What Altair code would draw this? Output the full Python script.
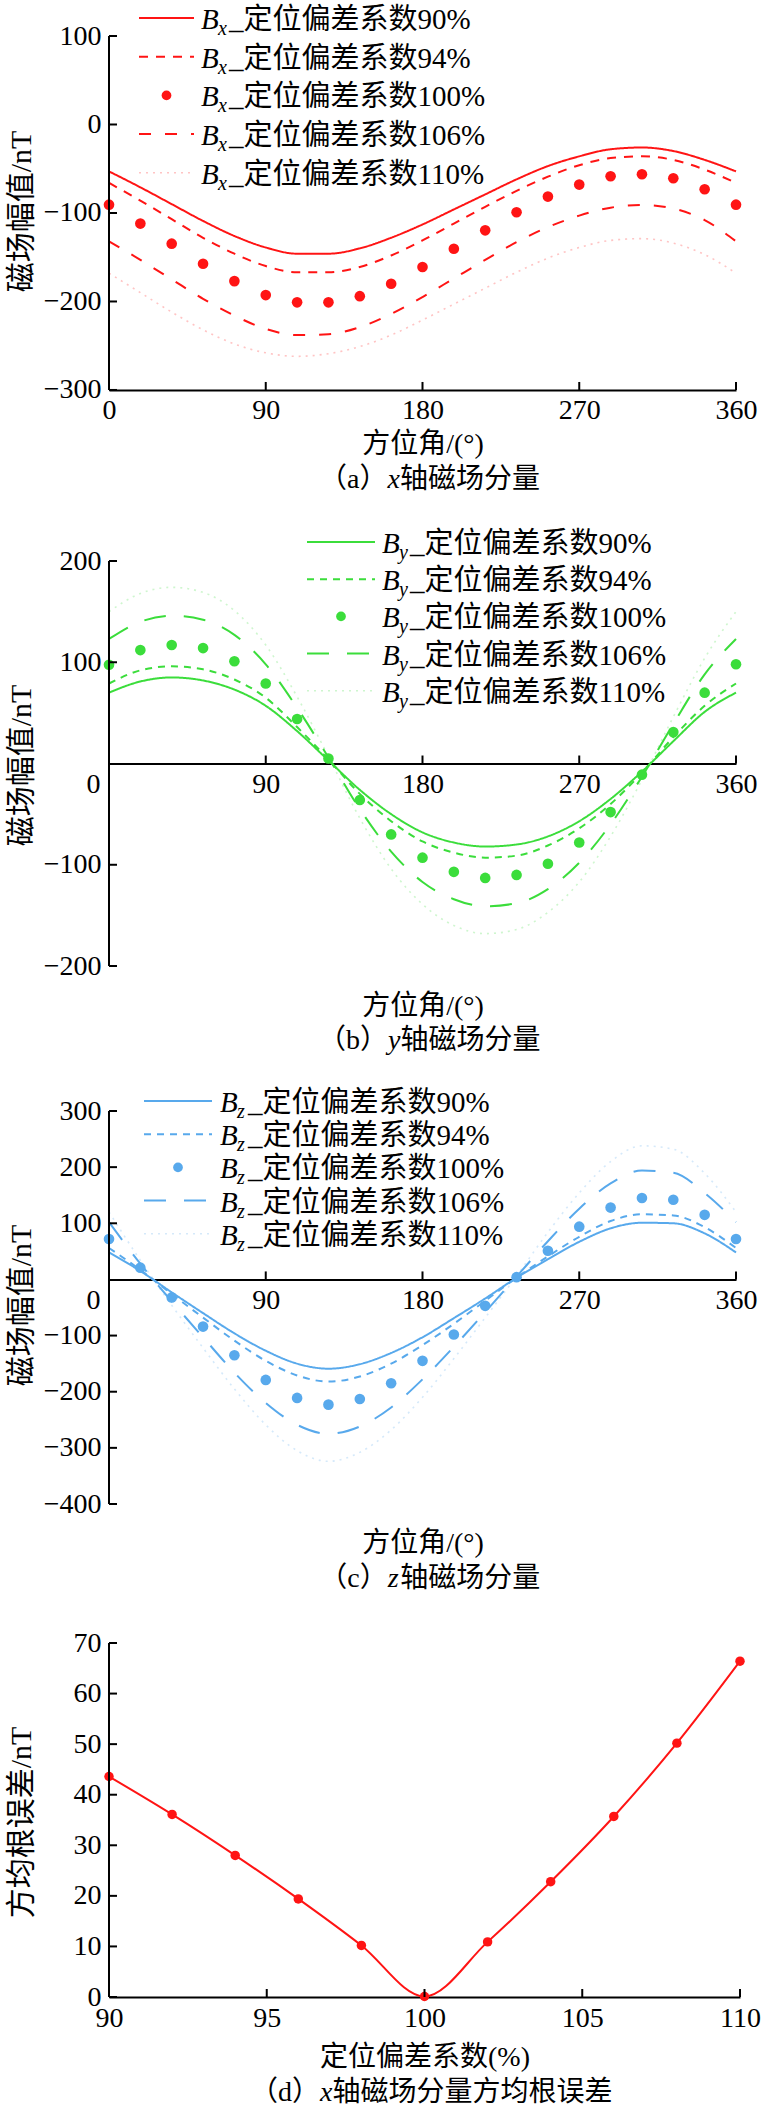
import altair as alt
import pandas as pd

FONT = "Liberation Serif, Noto Sans CJK SC"

ANG = [0, 18, 36, 54, 72, 90, 108, 126, 144, 162, 180, 198, 216, 234, 252, 270, 288, 306, 324, 342, 360]

# ---------- (a) x component ----------
A_NAMES = ["Bx_定位偏差系数90%", "Bx_定位偏差系数94%", "Bx_定位偏差系数100%", "Bx_定位偏差系数106%", "Bx_定位偏差系数110%"]
A90 = [-53, -71, -90, -109, -126, -139, -146, -146, -140, -128, -113, -96, -79, -62, -47, -36, -28, -26, -30, -40, -53]
A94 = [-66, -86, -107, -128, -146, -160, -167, -167, -161, -148, -131, -112, -93, -75, -59, -46, -38, -36, -40, -51, -66]
A100 = [-90.6, -112, -134.7, -157.4, -177, -192.8, -201, -201, -194, -180, -161, -140.4, -119.6, -99.2, -81.5, -67.9, -58.5, -56.2, -60.8, -73.2, -90.6]
A106 = [-132, -153, -175, -197, -216, -231, -238, -237, -229, -214, -195, -174, -153, -133, -116, -103, -94, -91, -95, -108, -132]
A110 = [-168, -190, -212, -232, -248, -258, -262, -259, -251, -238, -221, -203, -185, -167, -151, -139, -131, -129, -134, -147, -168]

# ---------- (b) y component ----------
B_NAMES = ["By_定位偏差系数90%", "By_定位偏差系数94%", "By_定位偏差系数100%", "By_定位偏差系数106%", "By_定位偏差系数110%"]
B90 = [70, 81, 85, 82, 73, 57, 32, 3, -26, -50, -68, -78, -82, -80, -72, -57, -35, -8, 22, 51, 70]
B94 = [79, 92, 96, 93, 83, 65, 36, 4, -30, -57, -77, -88, -93, -91, -81, -64, -40, -9, 26, 57, 79]
B100 = [97.5, 112, 117, 114, 101, 79, 44, 5, -36, -70, -93, -107, -113, -110, -99, -78, -48, -11, 31, 70, 98]
B106 = [123, 140, 146, 142, 127, 98, 55, 6, -45, -87, -117, -134, -141, -138, -124, -98, -60, -13, 39, 88, 123]
B110 = [150, 168, 174, 169, 151, 117, 66, 7, -54, -104, -139, -160, -168, -164, -147, -117, -72, -16, 46, 104, 150]

# ---------- (c) z component ----------
C_NAMES = ["Bz_定位偏差系数90%", "Bz_定位偏差系数94%", "Bz_定位偏差系数100%", "Bz_定位偏差系数106%", "Bz_定位偏差系数110%"]
C90 = [48, 15, -23, -60, -96, -127, -150, -159, -151, -131, -103, -69, -34, 3, 36, 67, 91, 101, 100, 82, 48]
C94 = [56, 17, -26, -68, -109, -145, -171, -182, -173, -150, -117, -79, -38, 3, 41, 76, 104, 116, 114, 93, 56]
C100 = [72, 21, -32, -84, -135, -179, -211, -223, -213, -185, -145, -98, -47, 4, 51, 94, 128, 145, 142, 115, 72]
C106 = [102, 28, -39, -103, -166, -220, -259, -275, -262, -228, -178, -120, -58, 5, 68, 126, 171, 194, 190, 154, 102]
C110 = [120, 34, -46, -122, -195, -259, -305, -324, -308, -268, -210, -141, -68, 6, 84, 154, 210, 238, 232, 189, 120]

# ---------- (d) RMSE ----------
D_X = [90, 92, 94, 96, 98, 100, 102, 104, 106, 108, 110]
D_Y = [43.6, 36.1, 28.0, 19.4, 10.2, 0.1, 10.9, 22.8, 35.7, 50.2, 66.4]

# captions: (prefix, italic letter, suffix)
CAP_A = ("（a）", "x", "轴磁场分量")
CAP_B = ("（b）", "y", "轴磁场分量")
CAP_C = ("（c）", "z", "轴磁场分量")
CAP_D = ("（d）", "x", "轴磁场分量方均根误差")

RED = "#FF1414"
GREEN = "#3BDD3B"
BLUE = "#58A9EC"

# line dash patterns for 90%, 94%, 100%, 106%, 110%
DASH_A = [[1, 0], [9, 8], [1, 0], [12, 14], [2, 5]]
DASH_BC = [[1, 0], [7, 6], [1, 0], [22, 18], [2, 5]]


def long_df(names, arrays):
    rows = []
    for n, arr in zip(names, arrays):
        for a, v in zip(ANG, arr):
            rows.append({"x": a, "y": v, "series": n})
    return pd.DataFrame(rows)


def make_panel(names, arrays, color, xdom, xlabels, ybox, yext, ylabels, xaxis_at,
               w, h, ytitle, ytitle_y, xtitle, xtitle_y, caption, cap_split, cap_y,
               leg=None, dashes=None, zero_left=False, anchor=False, rmse=None):
    px = h / (ybox[1] - ybox[0])
    offs = -(h - (ybox[1] - xaxis_at) * px)

    lab_off = {"condition": {"test": "datum.value === 0", "value": -16}, "value": 0} if zero_left else 0
    xaxis = alt.Axis(values=xlabels, title=xtitle, titleFont=FONT, titleFontSize=28,
                     titleFontWeight="normal", titleColor="black", titleY=xtitle_y,
                     titleBaseline="top", titleAlign="center",
                     labelFont=FONT, labelFontSize=28, labelColor="black", labelPadding=7,
                     labelFlush=False, labelOverlap=False, labelOffset=lab_off,
                     ticks=False, domain=True, domainColor="black", domainWidth=2,
                     offset=offs, grid=False)
    yaxis = alt.Axis(values=ylabels, title=ytitle, titleFont=FONT, titleFontSize=30,
                     titleFontWeight="normal", titleColor="black", titleAngle=270,
                     titleX=-88, titleY=ytitle_y, titleAlign="center", titleBaseline="middle",
                     labelFont=FONT, labelFontSize=28, labelColor="black", labelPadding=8,
                     labelFlush=False, labelOverlap=False, ticks=False, domain=False, grid=False)
    X = alt.X("x:Q", scale=alt.Scale(domain=xdom, nice=False, zero=False), axis=xaxis)
    Y = alt.Y("y:Q", scale=alt.Scale(domain=ybox, nice=False, zero=False), axis=yaxis)

    layers = []
    if rmse is None:
        df = long_df(names, arrays)
        sd = alt.StrokeDash("series:N", scale=alt.Scale(domain=names, range=dashes), legend=None)
        main = df[df.series.isin([names[0], names[1], names[3]])]
        faint = df[df.series == names[4]]
        pts = df[df.series == names[2]]
        layers.append(alt.Chart(main).mark_line(color=color, strokeWidth=2, interpolate="monotone")
                      .encode(x=X, y=Y, strokeDash=sd, detail="series:N"))
        layers.append(alt.Chart(faint).mark_line(color=color, strokeWidth=1.6, opacity=0.25,
                                                 interpolate="monotone")
                      .encode(x=X, y=Y, strokeDash=sd))
        layers.append(alt.Chart(pts).mark_circle(size=113, color=color, opacity=1)
                      .encode(x=X, y=Y))

        # legend block (key glyphs + labels), one row per series
        ldf = pd.DataFrame({"series": names,
                            "pre": [n[0] for n in names],
                            "sub": [n[1] for n in names],
                            "rest": [n[2:] for n in names],
                            "py": [leg["y0"] + i * leg["pitch"] for i in range(len(names))],
                            "ty": [leg["y0"] + i * leg["pitch"] + 2 for i in range(len(names))]})
        PY = alt.Y("py:Q", scale=None)
        TY = alt.Y("ty:Q", scale=None)
        lmain = ldf[ldf.series.isin([names[0], names[1], names[3]])]
        layers.append(alt.Chart(lmain).mark_rule(color=color, strokeWidth=2)
                      .encode(x=alt.value(leg["x1"]), x2=alt.value(leg["x2"]), y=PY, strokeDash=sd))
        layers.append(alt.Chart(ldf[ldf.series == names[4]]).mark_rule(color=color, strokeWidth=1.6,
                                                                       opacity=0.25)
                      .encode(x=alt.value(leg["x1"]), x2=alt.value(leg["x2"]), y=PY, strokeDash=sd))
        layers.append(alt.Chart(ldf[ldf.series == names[2]]).mark_circle(size=95, color=color, opacity=1)
                      .encode(x=alt.value((leg["x1"] + leg["x2"]) / 2), y=PY))
        tx = leg["tx"]
        layers.append(alt.Chart(ldf).mark_text(align="left", baseline="middle", font=FONT,
                                               fontSize=29, fontStyle="italic", color="black")
                      .encode(x=alt.value(tx), y=TY, text="pre:N"))
        layers.append(alt.Chart(ldf).mark_text(align="left", baseline="middle", font=FONT,
                                               fontSize=20, fontStyle="italic", color="black", dy=9)
                      .encode(x=alt.value(tx + 17), y=TY, text="sub:N"))
        layers.append(alt.Chart(ldf).mark_text(align="left", baseline="middle", font=FONT,
                                               fontSize=29, color="black")
                      .encode(x=alt.value(tx + 28), y=TY, text="rest:N"))
    else:
        df = pd.DataFrame({"x": rmse[0], "y": rmse[1]})
        layers.append(alt.Chart(df).mark_line(color=color, strokeWidth=2, interpolate="monotone")
                      .encode(x=X, y=Y))
        layers.append(alt.Chart(df).mark_circle(color=color, size=90, opacity=1)
                      .encode(x=X, y=Y))

    # y axis line
    yl = pd.DataFrame({"x": [xdom[0]], "y": [yext[0]], "y2": [yext[1]]})
    layers.append(alt.Chart(yl).mark_rule(color="black", strokeWidth=2)
                  .encode(x=X, y=Y, y2="y2:Q"))
    # inward ticks
    yt = pd.DataFrame({"x": [xdom[0]] * len(ylabels), "y": ylabels})
    layers.append(alt.Chart(yt).mark_tick(orient="horizontal", size=8, thickness=2,
                                          xOffset=4, color="black", opacity=1)
                  .encode(x=X, y=Y))
    xt_vals = [v for v in xlabels if v != xdom[0]]
    xt = pd.DataFrame({"x": xt_vals, "y": [xaxis_at] * len(xt_vals)})
    layers.append(alt.Chart(xt).mark_tick(orient="vertical", size=8, thickness=2,
                                          yOffset=-4, color="black", opacity=1)
                  .encode(x=X, y=Y))

    # sub-figure caption with italic axis letter
    cdf = pd.DataFrame({"pre": [caption[0]], "mid": [caption[1]], "post": [caption[2]]})
    cbase = alt.Chart(cdf)
    layers.append(cbase.mark_text(align="right", baseline="middle", font=FONT, fontSize=28,
                                  color="black")
                  .encode(x=alt.value(cap_split), y=alt.value(cap_y), text="pre:N"))
    layers.append(cbase.mark_text(align="left", baseline="middle", font=FONT, fontSize=28,
                                  fontStyle="italic", color="black")
                  .encode(x=alt.value(cap_split), y=alt.value(cap_y), text="mid:N"))
    layers.append(cbase.mark_text(align="left", baseline="middle", font=FONT, fontSize=28,
                                  color="black")
                  .encode(x=alt.value(cap_split + 12.5), y=alt.value(cap_y), text="post:N"))

    if anchor:
        an = pd.DataFrame({"k": [0]})
        layers.append(alt.Chart(an).mark_rule(color="white", strokeWidth=1)
                      .encode(x=alt.value(-108), x2=alt.value(-107),
                              y=alt.value(-35), y2=alt.value(-34)))
    return alt.layer(*layers).properties(width=w, height=h)


pa = make_panel(A_NAMES, [A90, A94, A100, A106, A110], RED, [0, 360], [0, 90, 180, 270, 360],
                [-336.2, 100], [-300, 100], [-300, -200, -100, 0, 100], -300,
                627, 386, "磁场幅值/nT", 175, "方位角/(°)", 40.5, CAP_A, 278.5, 444,
                leg={"x1": 30, "x2": 85, "tx": 92, "y0": -18, "pitch": 38.7},
                dashes=DASH_A, anchor=True)
pb = make_panel(B_NAMES, [B90, B94, B100, B106, B110], GREEN, [0, 360], [0, 90, 180, 270, 360],
                [-205.9, 200], [-200, 200], [-200, -100, 100, 200], 0,
                627, 411, "磁场幅值/nT", 204, "方位角/(°)", 229, CAP_B, 279, 480,
                leg={"x1": 198, "x2": 266, "tx": 273, "y0": -19, "pitch": 37.2},
                dashes=DASH_BC, zero_left=True)
pc = make_panel(C_NAMES, [C90, C94, C100, C106, C110], BLUE, [0, 360], [0, 90, 180, 270, 360],
                [-400, 300], [-400, 300], [-400, -300, -200, -100, 100, 200, 300], 0,
                627, 393, "磁场幅值/nT", 194, "方位角/(°)", 250, CAP_C, 278.7, 468,
                leg={"x1": 35, "x2": 103, "tx": 111, "y0": -10, "pitch": 33.2},
                dashes=DASH_BC, zero_left=True)
pd_ = make_panel(None, None, RED, [90, 110], [90, 95, 100, 105, 110],
                 [0, 70], [0, 70], [0, 10, 20, 30, 40, 50, 60, 70], 0,
                 631, 354, "方均根误差/nT", 179, "定位偏差系数(%)", 46.5, CAP_D, 211, 450,
                 rmse=(D_X, D_Y))

chart = (alt.vconcat(pa, pb, pc, pd_, spacing=139, bounds="flush")
         .resolve_scale(strokeDash="independent")
         .properties(padding=0, background="white")
         .configure_view(stroke=None))

chart.save("out.html", embed_options={"renderer": "svg", "actions": False})
